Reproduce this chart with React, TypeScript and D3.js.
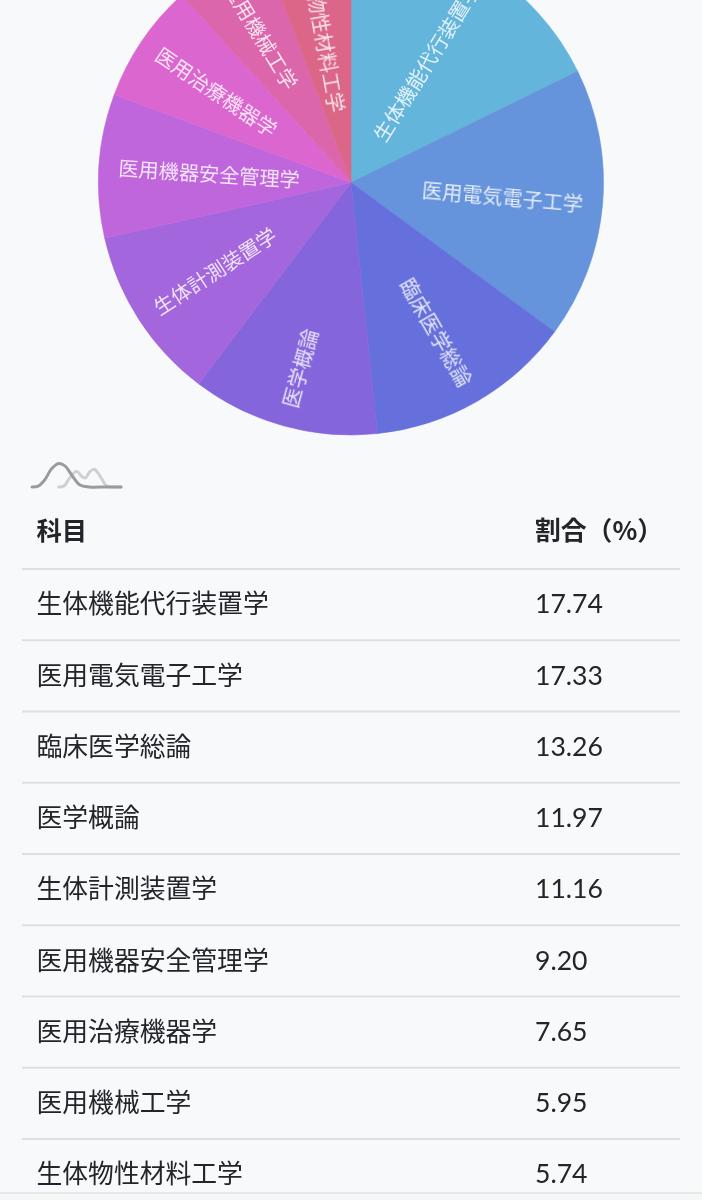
import React from "react";
import * as d3 from "d3";

const subjects = ["生体機能代行装置学","医用電気電子工学","臨床医学総論","医学概論","生体計測装置学","医用機器安全管理学","医用治療機器学","医用機械工学","生体物性材料工学"];
const shares = [17.74,17.33,13.26,11.97,11.16,9.2,7.65,5.95,5.74];
const shareLabels = ["17.74","17.33","13.26","11.97","11.16","9.20","7.65","5.95","5.74"];
const sliceColors = ["#64b5dc","#6694dc","#6670dc","#8465dc","#a366dc","#c066dc","#dc66cf","#dc66ab","#dc6688"];
const headers = ["科目","割合（%）"];
const iconBack = [[30,25],[36,24],[42,16],[50,8.5],[56,14],[60,15.5],[65,9],[70,6.5],[76,13],[84,24],[92,25],[100,25]];
const iconFront = [[0,25],[7,24],[14,18],[22,6],[30,0.5],[37,3],[45,13],[54,23],[64,25],[82,25],[100,25]];

const W = 702, H = 1200;
const CX = 351, CY = 182.5, R = 252.5, LABEL_R = 233;
const COL1 = 36.5, COL2 = 535;
const HEADER_LINE = 569, ROW_H = 71.25;
const FONT = "'Lato','Noto Sans CJK JP',sans-serif";
const CJK = "'Noto Sans CJK JP','Noto Sans',sans-serif";

export default function App() {
  const arcs = d3.pie<number>().sort(null)(shares);
  const arc = d3.arc<d3.PieArcDatum<number>>().innerRadius(0).outerRadius(R);
  const iconX = d3.scaleLinear().domain([0, 100]).range([32, 121]);
  const iconY = d3.scaleLinear().domain([0, 25]).range([463, 487]);
  const iconLine = d3.line<number[]>().x(d => iconX(d[0])).y(d => iconY(d[1])).curve(d3.curveCatmullRom);
  return (
    <svg width={W} height={H} viewBox={`0 0 ${W} ${H}`} style={{ position: "absolute", left: 0, top: 0, display: "block" }}>
      <defs>
        <filter id="soft" x="-5%" y="-5%" width="110%" height="110%"><feGaussianBlur stdDeviation="0.4" /></filter>
        <filter id="labelSoft" x="-5%" y="-5%" width="110%" height="110%"><feGaussianBlur stdDeviation="0.55" /></filter>
      </defs>
      <rect width={W} height={H} fill="#f8f9fb" />
      <g filter="url(#soft)">
        <g transform={`translate(${CX},${CY})`}>
          {arcs.map((a, i) => <path key={i} d={arc(a) || ""} fill={sliceColors[i]} stroke={sliceColors[i]} strokeWidth={0.6} />)}
        </g>
      </g>
      <g filter="url(#labelSoft)" transform={`translate(${CX},${CY})`}>
        {arcs.map((a, i) => {
          const mid = (a.startAngle + a.endAngle) / 2;
          const deg = (mid * 180) / Math.PI;
          const x = LABEL_R * Math.sin(mid);
          const y = -LABEL_R * Math.cos(mid);
          const right = mid < Math.PI;
          return (
            <text key={i} transform={`translate(${x},${y}) rotate(${right ? deg - 90 : deg + 90})`}
              textAnchor={right ? "end" : "start"} dominantBaseline="central"
              fontFamily={CJK} fontSize={20.2} fill="#ffffff" fillOpacity={0.82}>{subjects[i]}</text>
          );
        })}
      </g>
      <g filter="url(#soft)">
        <g fill="none" strokeLinecap="round">
          <path d={iconLine(iconBack) || ""} stroke="#cfd0d2" strokeWidth={3} />
          <path d={iconLine(iconFront) || ""} stroke="#9a9b9d" strokeWidth={3} />
        </g>
        <text x={COL1} y={540} fontFamily={CJK} fontWeight={700} fontSize={25.3} fill="#212529">{headers[0]}</text>
        <text x={COL2} y={540} fontFamily={CJK} fontWeight={700} fontSize={25.8} fill="#212529">{headers[1]}</text>
        <line x1={22} x2={680} y1={HEADER_LINE} y2={HEADER_LINE} stroke="#dcdfe4" strokeWidth={2} />
        {subjects.map((s, i) => {
          const lineY = HEADER_LINE + ROW_H * (i + 1);
          const textY = lineY - 27;
          return (
            <g key={s}>
              <text x={COL1} y={textY} fontFamily={CJK} fontSize={25.8} fill="#212529">{s}</text>
              <text x={COL2} y={textY} fontFamily={FONT} fontSize={26.6} fill="#212529">{shareLabels[i]}</text>
              {i < subjects.length - 1 && <line x1={22} x2={680} y1={lineY} y2={lineY} stroke="#dcdfe4" strokeWidth={2} />}
            </g>
          );
        })}
      </g>
      <rect x={0} y={1193} width={W} height={7} fill="#f6f6f7" />
      <line x1={0} x2={W} y1={1193} y2={1193} stroke="#d8d8da" strokeWidth={1} />
    </svg>
  );
}
